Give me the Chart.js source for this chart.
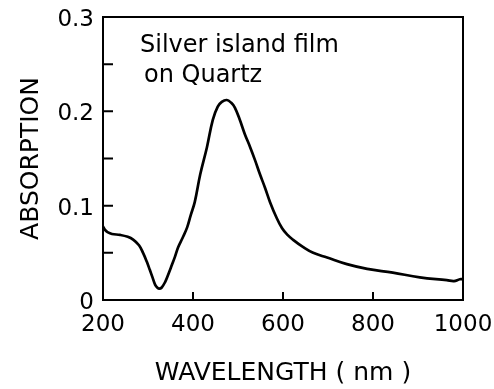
<!DOCTYPE html>
<html>
<head>
<meta charset="utf-8">
<script src="https://cdn.jsdelivr.net/npm/chart.js@4.4.0/dist/chart.umd.min.js"></script>
<style>
  html, body { margin: 0; padding: 0; background: #fff; }
  #c { display: block; }
</style>
</head>
<body>
<canvas id="c" width="494" height="389"></canvas>
<script>
// === DADOS ===
const comprimentos = [200, 205, 210, 220, 238, 255, 267, 280, 289, 297, 304, 310, 316, 321, 325, 330, 338, 345, 353, 360, 367, 377, 387, 395, 404, 416, 431, 444, 455, 464, 475, 485, 493, 504, 515, 527, 538, 549, 560, 571, 585, 598, 610, 622, 645, 667, 698, 742, 787, 844, 904, 964, 980, 993, 1000];
const absorcao = [0.078, 0.074, 0.072, 0.070, 0.069, 0.067, 0.064, 0.058, 0.050, 0.041, 0.032, 0.024, 0.016, 0.013, 0.012, 0.013, 0.019, 0.027, 0.037, 0.046, 0.056, 0.066, 0.077, 0.090, 0.104, 0.133, 0.162, 0.191, 0.205, 0.210, 0.212, 0.209, 0.204, 0.191, 0.176, 0.162, 0.148, 0.133, 0.119, 0.104, 0.088, 0.076, 0.069, 0.064, 0.056, 0.050, 0.045, 0.038, 0.033, 0.029, 0.024, 0.021, 0.020, 0.022, 0.022];
const ticksX = [200, 400, 600, 800, 1000];
const ticksY = [0, 0.05, 0.1, 0.15, 0.2, 0.25, 0.3];
const legenda = ["Silver island film", "on Quartz"];

const fonte = "'DejaVu Sans', sans-serif";

// === MOLDURA, TRAÇOS INTERNOS E TEXTO ===
const moldura = {
  id: "moldura",
  afterDraw(chart) {
    const { ctx, chartArea: a, scales } = chart;
    ctx.save();
    ctx.strokeStyle = "#000";
    ctx.lineWidth = 2;
    ctx.strokeRect(a.left, a.top, a.right - a.left, a.bottom - a.top);

    ctx.beginPath();
    ticksX.forEach(v => {
      const x = scales.x.getPixelForValue(v);
      ctx.moveTo(x, a.bottom);
      ctx.lineTo(x, a.bottom - 8);
    });
    ticksY.forEach(v => {
      const y = scales.y.getPixelForValue(v);
      ctx.moveTo(a.left, y);
      ctx.lineTo(a.left + 10, y);
    });
    ctx.stroke();

    ctx.fillStyle = "#000";
    ctx.font = "24px " + fonte;
    ctx.textBaseline = "alphabetic";
    ctx.fillText(legenda[0], 140, 52);
    ctx.fillText(legenda[1], 144, 82);
    ctx.restore();
  }
};

new Chart(document.getElementById("c"), {
  type: "line",
  data: {
    datasets: [{
      data: comprimentos.map((x, i) => ({ x, y: absorcao[i] })),
      borderColor: "#000",
      borderWidth: 2.7,
      pointRadius: 0,
      tension: 0.4,
      fill: false
    }]
  },
  options: {
    responsive: false,
    devicePixelRatio: 1,
    animation: false,
    layout: { padding: { left: 0, top: 17, right: 31, bottom: 0 } },
    plugins: { legend: { display: false }, tooltip: { enabled: false } },
    scales: {
      x: {
        type: "linear",
        min: 200,
        max: 1000,
        afterBuildTicks: s => { s.ticks = ticksX.map(v => ({ value: v })); },
        afterFit: s => { s.height = 89; s.paddingLeft = 0; s.paddingRight = 0; },
        grid: { display: false, drawTicks: false },
        border: { display: false },
        ticks: {
          color: "#000",
          font: { family: fonte, size: 23 },
          padding: 11,
          maxRotation: 0,
          callback: v => String(v)
        },
        title: {
          display: true,
          text: "WAVELENGTH ( nm )",
          color: "#000",
          font: { family: fonte, size: 25 },
          padding: { top: 7, bottom: 1 }
        }
      },
      y: {
        type: "linear",
        min: 0,
        max: 0.3,
        afterBuildTicks: s => { s.ticks = ticksY.map(v => ({ value: v })); },
        afterFit: s => { s.width = 103; s.paddingTop = 0; s.paddingBottom = 0; },
        grid: { display: false, drawTicks: false },
        border: { display: false },
        ticks: {
          color: "#000",
          font: { family: fonte, size: 23 },
          padding: 9,
          labelOffset: 3,
          callback: v => (Math.round(v * 100) % 10 === 0 ? (v === 0 ? "0" : v.toFixed(1)) : "")
        },
        title: {
          display: true,
          text: "ABSORPTION",
          color: "#000",
          font: { family: fonte, size: 25 },
          padding: { top: 16, bottom: 0 }
        }
      }
    }
  },
  plugins: [moldura]
});
</script>
</body>
</html>
